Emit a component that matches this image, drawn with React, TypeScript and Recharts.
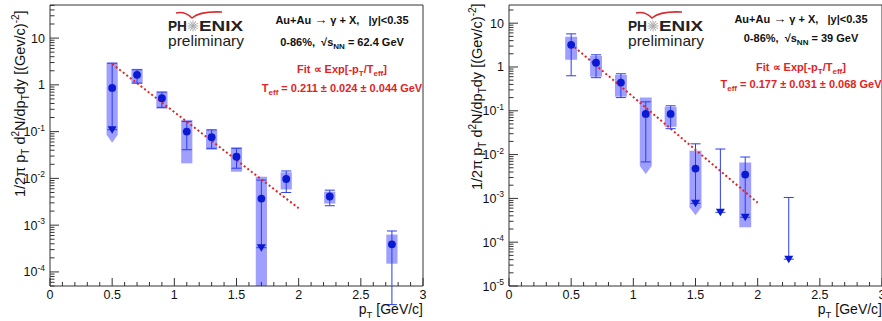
import React from 'react';
import { ComposedChart, Scatter, ErrorBar, XAxis, YAxis, ReferenceArea } from 'recharts';

// ---- left panel: sqrt(sNN) = 62.4 GeV ----
const PT_A = [0.5, 0.7, 0.9, 1.1, 1.3, 1.5, 1.7, 1.9, 2.25, 2.75];
const Y_A = [0.86, 1.64, 0.52, 0.1, 0.076, 0.029, 0.0037, 0.0097, 0.0041, 0.00039];
const STAT_HI_A = [2.9, 2.1, 0.7, 0.164, 0.109, 0.044, 0.0092, 0.0144, 0.0056, 0.00075];
const STAT_LO_A = [0.11, 1.09, 0.33, 0.041, 0.044, 0.0165, 0.00033, 0.005, 0.0026, 0.00002];
const SYS_HI_A = [3.0, 2.2, 0.72, 0.178, 0.112, 0.046, 0.0109, 0.0135, 0.0052, 0.00063];
const SYS_LO_A = [0.058, 1.05, 0.31, 0.021, 0.041, 0.0139, 0.00003, 0.0058, 0.0029, 0.00015];
const LIMIT_A = [0.11, null, null, null, null, null, 0.00033, null, null, null];
const ARROW_BOX_A = [0.5];
const FIT_A = [2.8, 0.0023];

// ---- right panel: sqrt(sNN) = 39 GeV ----
const PT_B = [0.5, 0.7, 0.9, 1.1, 1.3, 1.5, 1.7, 1.9, 2.25];
const Y_B = [3.2, 1.25, 0.44, 0.085, 0.085, 0.0048, null, 0.0035, null];
const STAT_HI_B = [5.7, 1.9, 0.7, 0.16, 0.13, 0.0176, 0.0134, 0.0088, 0.00105];
const STAT_LO_B = [0.63, 0.57, 0.2, 0.0068, 0.039, 0.00077, 0.00048, 0.00037, 0.000041];
const SYS_HI_B = [4.9, 1.8, 0.66, 0.2, 0.123, 0.0122, null, 0.0066, null];
const SYS_LO_B = [1.46, 0.6, 0.21, 0.0036, 0.043, 0.00041, null, 0.00022, null];
const LIMIT_B = [null, null, null, null, null, 0.00077, 0.00048, 0.00037, 0.000041];
const ARROW_BOX_B = [1.1, 1.5];
const FIT_B = [3.3, 0.0008];

const FIT_PT = [0.5, 2.0];
const X_MAJOR = [0, 0.5, 1, 1.5, 2, 2.5, 3];

const FONT = 'Liberation Sans, Arial, Helvetica, sans-serif';
const BLUE = '#0a1ad2';
const BAR_BLUE = '#2a3cf0';
const BOX_BLUE = '#1a1aff';
const RED = '#e02424';
const AXIS = '#333';
const PLOT_TOP = 5;
const PLOT_BOTTOM = 286;
const SP = '\u00a0';

const xTicks: number[] = [];
for (let i = 0; i <= 30; i++) xTicks.push(i / 10);

function logTicks(decades: number[], lo: number, hi: number) {
  const out: number[] = [];
  decades.forEach((e) => {
    for (let k = 1; k <= 9; k++) {
      const v = Number((k * Math.pow(10, e)).toPrecision(3));
      if (v >= lo && v <= hi) out.push(v);
    }
  });
  return out;
}

const XTick = (props: any) => {
  const { x, payload } = props;
  const v = payload.value;
  const major = X_MAJOR.some((m) => Math.abs(m - v) < 1e-6);
  return (
    <g>
      <line x1={x} x2={x} y1={PLOT_BOTTOM} y2={PLOT_BOTTOM - (major ? 8 : 4)} stroke={AXIS} />
      {major && (
        <text x={x} y={PLOT_BOTTOM + 12.5} textAnchor="middle" fontSize={12.5} fontFamily={FONT} fill="#111">
          {String(v)}
        </text>
      )}
    </g>
  );
};

const makeYTick = (plotLeft: number) => (props: any) => {
  const { y, payload } = props;
  const lg = Math.log10(payload.value);
  const e = Math.round(lg);
  const major = Math.abs(lg - e) < 1e-6;
  let label: React.ReactNode = null;
  if (major) {
    const common = { x: plotLeft - 5, y: y + 4.5, textAnchor: 'end' as const, fontSize: 12.5, fontFamily: FONT, fill: '#111' };
    if (e === 0) label = <text {...common}>1</text>;
    else if (e === 1) label = <text {...common}>10</text>;
    else
      label = (
        <text {...common}>
          10<tspan dy={-5.5} fontSize={8.5}>{String(e)}</tspan>
        </text>
      );
  }
  return (
    <g>
      <line x1={plotLeft} x2={plotLeft + (major ? 9 : 4.5)} y1={y} y2={y} stroke={AXIS} />
      {label}
    </g>
  );
};

const YTitle = ({ x, bottom }: { x: number; bottom: number }) => (
  <text
    transform={`translate(${x},${bottom}) rotate(-90)`}
    x={0}
    y={0}
    fontSize={14.5}
    fontFamily={FONT}
    fill="#111"
  >
    1/2π p<tspan dy={4} fontSize={10}>T</tspan>
    <tspan dy={-4}>{SP}d</tspan>
    <tspan dy={-6} fontSize={10}>2</tspan>
    <tspan dy={6}>N/dp</tspan>
    <tspan dy={4} fontSize={10}>T</tspan>
    <tspan dy={-4}>dy [(Gev/c)</tspan>
    <tspan dy={-6} fontSize={10}>-2</tspan>
    <tspan dy={6}>]</tspan>
  </text>
);

const XTitle = ({ right }: { right: number }) => (
  <text x={right} y={314} textAnchor="end" fontSize={14} fontFamily={FONT} fill="#111">
    p<tspan dy={3.5} fontSize={9.5}>T</tspan>
    <tspan dy={-3.5}>{SP}[GeV/c]</tspan>
  </text>
);

const ArrowBox = (props: any) => {
  const { x, y, width: w, height: h } = props;
  const tip = 8;
  const pts = `${x},${y} ${x + w},${y} ${x + w},${y + h - tip} ${x + w / 2},${y + h} ${x},${y + h - tip}`;
  return <polygon points={pts} fill={BOX_BLUE} fillOpacity={0.42} />;
};

const Dot = (props: any) => <circle cx={props.cx} cy={props.cy} r={3.9} fill={BLUE} />;
const DownTri = (props: any) => {
  const { cx, cy } = props;
  return <polygon points={`${cx - 4.5},${cy - 3.5} ${cx + 4.5},${cy - 3.5} ${cx},${cy + 4}`} fill={BLUE} />;
};
const Empty = () => <g />;

type PanelProps = {
  pt: number[];
  y: (number | null)[];
  statHi: number[];
  statLo: number[];
  sysHi: (number | null)[];
  sysLo: (number | null)[];
  limit: (number | null)[];
  arrowBoxes: number[];
  fit: number[];
  domain: [number, number];
  decades: number[];
  yAxisWidth: number;
  marginRight: number;
  halfWidth: number;
  title: { x: number; bottom: number };
};

function Panel(p: PanelProps) {
  const plotLeft = p.yAxisWidth;
  const plotRight = 441 - p.marginRight;
  const points = p.pt
    .map((x, i) => ({ x, y: p.y[i], err: [(p.y[i] ?? 0) - p.statLo[i], p.statHi[i] - (p.y[i] ?? 0)] }))
    .filter((d) => d.y !== null);
  const limitBars = p.pt
    .map((x, i) => ({ x, y: p.limit[i], err: [0, p.statHi[i] - (p.limit[i] ?? 0)], c: p.y[i] }))
    .filter((d) => d.y !== null && d.c === null);
  const limits = p.pt.map((x, i) => ({ x, y: p.limit[i] })).filter((d) => d.y !== null);
  const fit = FIT_PT.map((x, i) => ({ x, y: p.fit[i] }));

  return (
    <ComposedChart
      width={441}
      height={321}
      margin={{ top: PLOT_TOP, right: p.marginRight, bottom: 0, left: 0 }}
    >
      <XAxis
        type="number"
        dataKey="x"
        domain={[0, 3]}
        ticks={xTicks}
        interval={0}
        allowDataOverflow
        axisLine={false}
        tickLine={false}
        height={35}
        tick={XTick}
        label={{ content: () => <XTitle right={plotRight} /> }}
      />
      <YAxis
        type="number"
        dataKey="y"
        scale="log"
        domain={p.domain}
        ticks={logTicks(p.decades, p.domain[0], p.domain[1])}
        interval={0}
        allowDataOverflow
        axisLine={false}
        tickLine={false}
        width={p.yAxisWidth}
        tick={makeYTick(plotLeft)}
        label={{ content: () => <YTitle x={p.title.x} bottom={p.title.bottom} /> }}
      />
      {p.pt.map((x, i) =>
        p.sysHi[i] === null ? null : (
          <ReferenceArea
            key={'sys' + i}
            x1={x - p.halfWidth}
            x2={x + p.halfWidth}
            y1={p.sysLo[i] as number}
            y2={p.sysHi[i] as number}
            ifOverflow="hidden"
            fill={BOX_BLUE}
            fillOpacity={0.42}
            stroke="none"
            shape={p.arrowBoxes.includes(x) ? ArrowBox : undefined}
          />
        ),
      )}
      <ReferenceArea
        x1={0}
        x2={3}
        y1={p.domain[0]}
        y2={p.domain[1]}
        fill="none"
        stroke={AXIS}
        strokeWidth={1}
        ifOverflow="visible"
      />
      <Scatter
        data={fit}
        line={{ stroke: RED, strokeWidth: 2, strokeDasharray: '2 2.5' }}
        shape={Empty}
        isAnimationActive={false}
      />
      <Scatter data={limitBars} shape={Empty} isAnimationActive={false}>
        <ErrorBar dataKey="err" direction="y" width={5} stroke={BAR_BLUE} strokeWidth={1} isAnimationActive={false} />
      </Scatter>
      <Scatter data={points} shape={Dot} isAnimationActive={false}>
        <ErrorBar dataKey="err" direction="y" width={5} stroke={BAR_BLUE} strokeWidth={1} isAnimationActive={false} />
      </Scatter>
      <Scatter data={limits} shape={DownTri} isAnimationActive={false} />
    </ComposedChart>
  );
}

const Logo = ({ x }: { x: number }) => (
  <g fontFamily={FONT}>
    <path
      d={`M${x + 8},13 Q${x + 17},11 ${x + 24},18 Q${x + 32},11 ${x + 54},12`}
      stroke="#d8282c"
      strokeWidth={1.6}
      fill="none"
    />
    <text x={x} y={31} fontSize={14} fontWeight="bold" fill="#222" textLength={19} lengthAdjust="spacingAndGlyphs">
      PH
    </text>
    <g stroke="#aaa" strokeWidth={1}>
      {[0, 30, 60, 90, 120, 150].map((a) => {
        const r = 5.5;
        const c = Math.cos((a * Math.PI) / 180) * r;
        const s = Math.sin((a * Math.PI) / 180) * r;
        return <line key={a} x1={x + 25 - c} y1={26 - s} x2={x + 25 + c} y2={26 + s} />;
      })}
    </g>
    <text x={x + 31} y={31} fontSize={14} fontWeight="bold" fill="#222" textLength={44} lengthAdjust="spacingAndGlyphs">
      ENIX
    </text>
    <text x={x} y={46} fontSize={14.5} fill="#222" textLength={76} lengthAdjust="spacingAndGlyphs">
      preliminary
    </text>
  </g>
);

const Info = ({ cx, ys, energy, teff }: { cx: number; ys: number[]; energy: string; teff: string }) => (
  <g fontFamily={FONT} fontWeight="bold" fontSize={11} textAnchor="middle">
    <text x={cx} y={ys[0]} fill="#111">
      {'Au+Au' + SP}
      <tspan fontSize={13}>→</tspan>
      {SP + 'γ + X,' + SP + SP + SP + '|y|<0.35'}
    </text>
    <text x={cx} y={ys[1]} fill="#111">
      {'0-86%,' + SP + SP + '√s'}
      <tspan dy={3} fontSize={8}>NN</tspan>
      <tspan dy={-3}>{SP + '= ' + energy + ' GeV'}</tspan>
    </text>
    <text x={cx} y={ys[2]} fill={RED}>
      Fit ∝ Exp[-p<tspan dy={3} fontSize={8}>T</tspan>
      <tspan dy={-3}>/T</tspan>
      <tspan dy={3} fontSize={8}>eff</tspan>
      <tspan dy={-3}>]</tspan>
    </text>
    <text x={cx} y={ys[3]} fill={RED}>
      T<tspan dy={3} fontSize={8}>eff</tspan>
      <tspan dy={-3}>{SP + '= ' + teff + ' GeV'}</tspan>
    </text>
  </g>
);

export default function App() {
  return (
    <div style={{ position: 'absolute', left: 0, top: 0, width: 882, height: 321, background: '#fff', overflow: 'hidden' }}>
      <div style={{ position: 'absolute', left: 0, top: 0 }}>
        <Panel
          pt={PT_A}
          y={Y_A}
          statHi={STAT_HI_A}
          statLo={STAT_LO_A}
          sysHi={SYS_HI_A}
          sysLo={SYS_LO_A}
          limit={LIMIT_A}
          arrowBoxes={ARROW_BOX_A}
          fit={FIT_A}
          domain={[5e-5, 51]}
          decades={[-5, -4, -3, -2, -1, 0, 1]}
          yAxisWidth={50}
          marginRight={18}
          halfWidth={0.045}
          title={{ x: 25, bottom: 197 }}
        />
      </div>
      <div style={{ position: 'absolute', left: 441, top: 0 }}>
        <Panel
          pt={PT_B}
          y={Y_B}
          statHi={STAT_HI_B}
          statLo={STAT_LO_B}
          sysHi={SYS_HI_B}
          sysLo={SYS_LO_B}
          limit={LIMIT_B}
          arrowBoxes={ARROW_BOX_B}
          fit={FIT_B}
          domain={[1e-5, 26]}
          decades={[-5, -4, -3, -2, -1, 0, 1]}
          yAxisWidth={68}
          marginRight={0}
          halfWidth={0.048}
          title={{ x: 41, bottom: 190 }}
        />
      </div>
      <svg width={882} height={321} style={{ position: 'absolute', left: 0, top: 0, pointerEvents: 'none' }}>
        <Logo x={168} />
        <Logo x={628} />
        <Info cx={342} ys={[24, 46, 73, 92]} energy="62.4" teff="0.211 ± 0.024 ± 0.044" />
        <Info cx={801} ys={[23, 42, 71, 88]} energy="39" teff="0.177 ± 0.031 ± 0.068" />
      </svg>
    </div>
  );
}
